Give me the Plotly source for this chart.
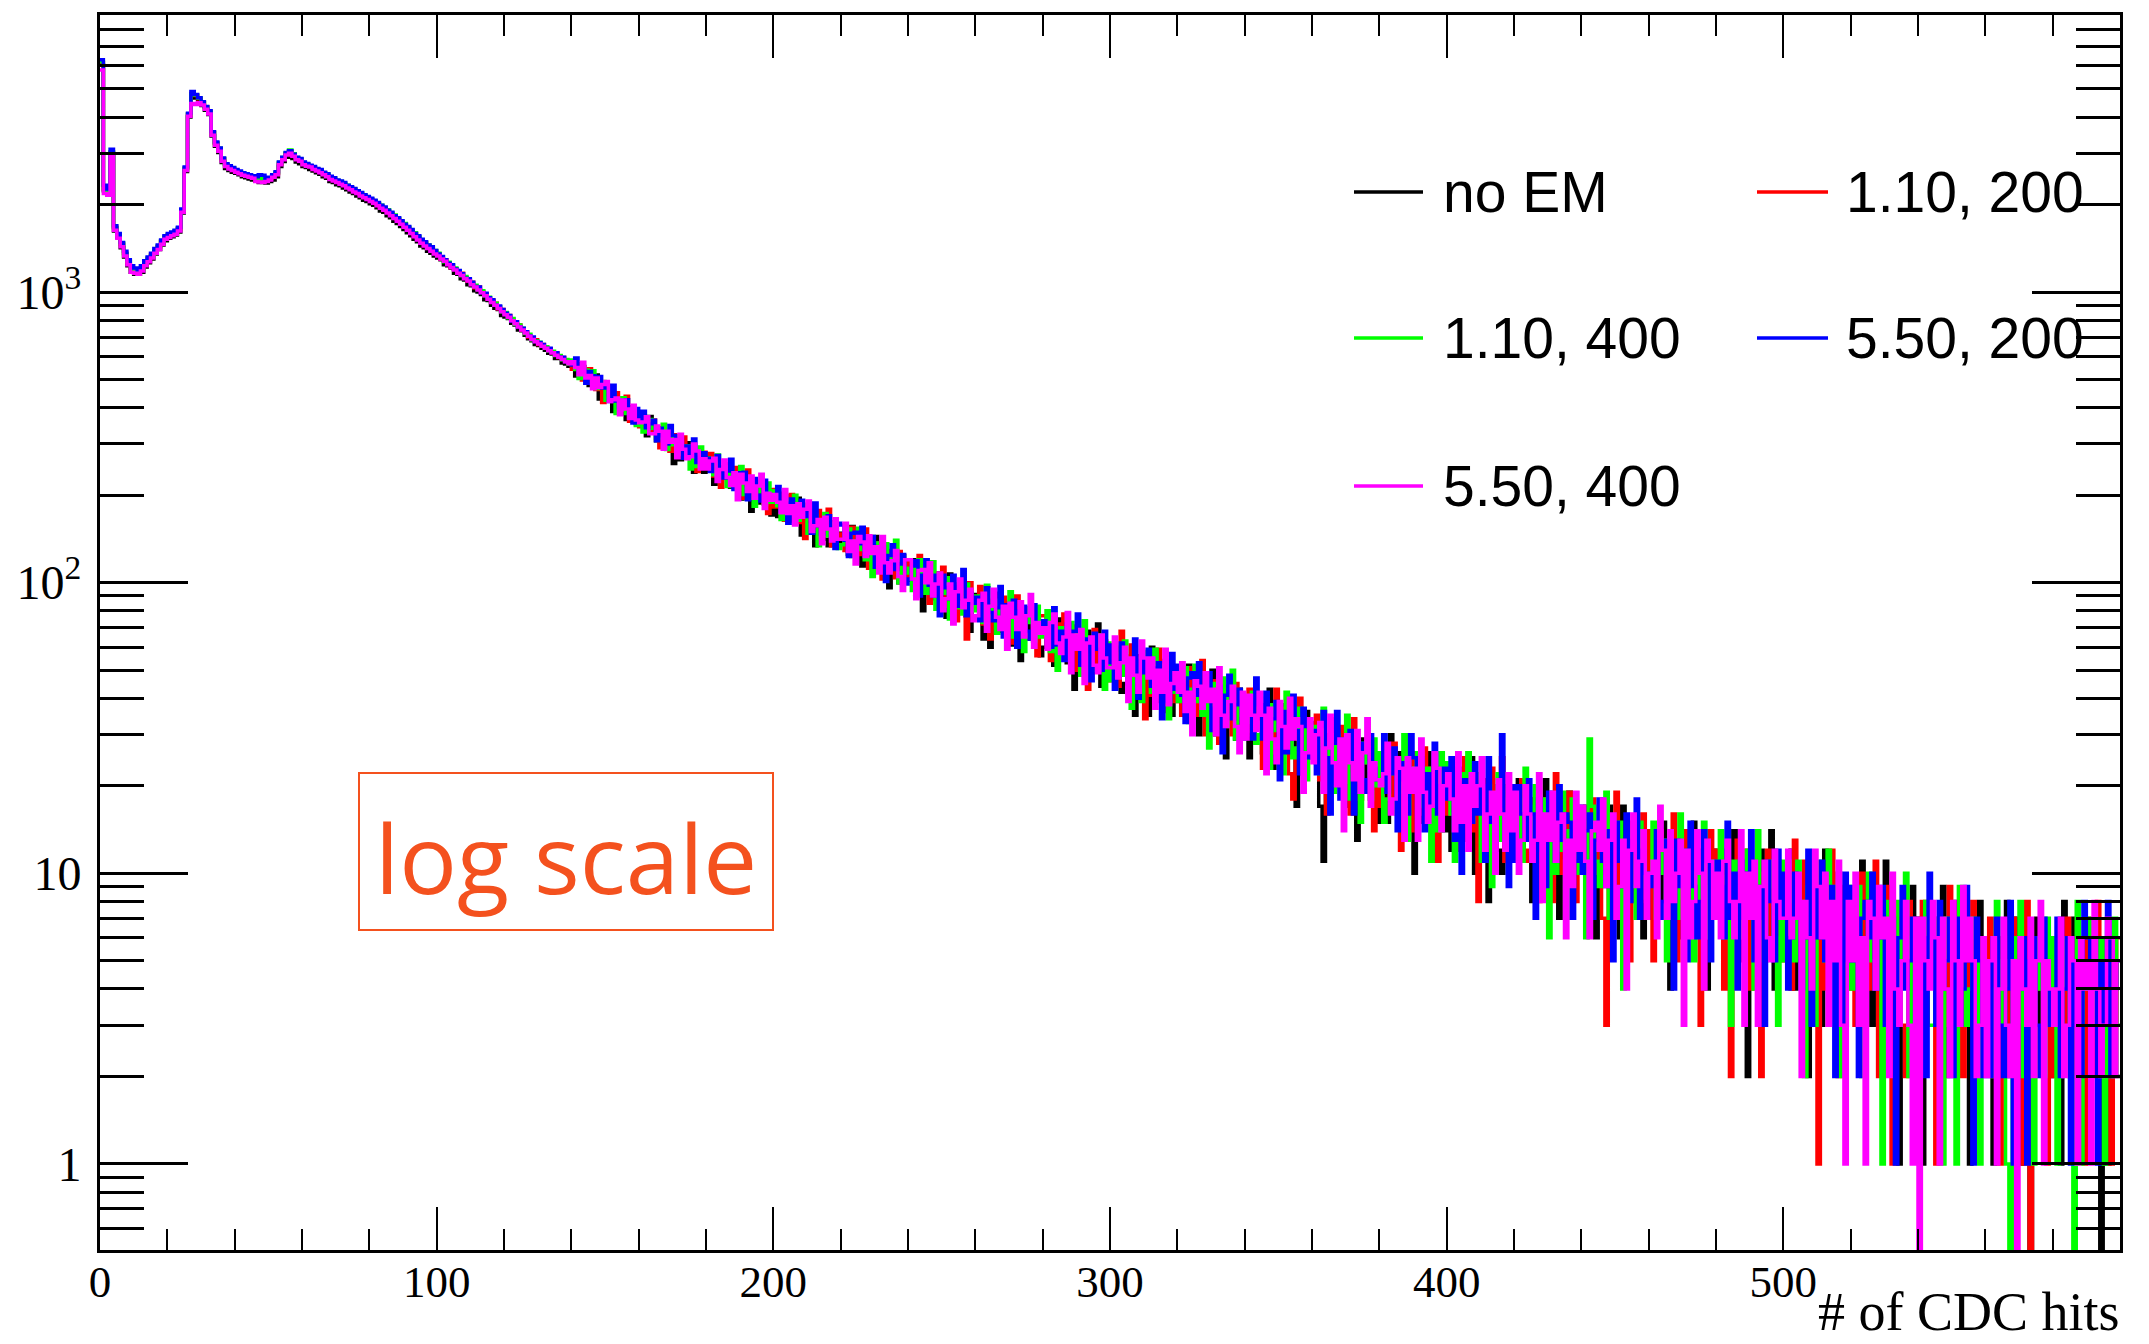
import plotly.graph_objects as go

# ---------------------------------------------------------------------------
# Histogram contents: number of CDC hits per event, 600 bins of width 1
# ---------------------------------------------------------------------------
N_BINS = 600
bin_edges = list(range(0, N_BINS + 1))

no_em = [
    6050, 2230, 2180, 2960, 1620, 1540, 1420, 1320, 1230, 1170, 1150, 1150, 1170, 1220, 1260, 1300, 1350, 1400, 1450, 1500,
    1530, 1550, 1570, 1610, 1870, 2600, 4000, 4700, 4650, 4520, 4380, 4220, 4080, 3440, 3170, 3020, 2790, 2660, 2620, 2580,
    2560, 2530, 2490, 2470, 2450, 2430, 2410, 2380, 2380, 2370, 2400, 2430, 2490, 2700, 2810, 2910, 2980, 2880, 2800, 2760,
    2700, 2680, 2640, 2610, 2570, 2540, 2490, 2460, 2400, 2380, 2340, 2320, 2280, 2250, 2210, 2180, 2140, 2110, 2070, 2050,
    2010, 1990, 1950, 1900, 1880, 1830, 1800, 1750, 1720, 1680, 1640, 1600, 1560, 1520, 1490, 1440, 1420, 1380, 1360, 1330,
    1310, 1290, 1240, 1230, 1210, 1160, 1150, 1110, 1100, 1060, 1050, 1010, 1000, 980, 940, 935, 900, 880, 870, 830,
    820, 810, 780, 770, 740, 735, 710, 690, 680, 660, 655, 640, 630, 615, 612, 590, 590, 570, 565, 555,
    557, 514, 549, 554, 500, 477, 488, 518, 428, 466, 440, 456, 388, 422, 422, 381, 364, 403, 370, 353,
    353, 356, 320, 373, 339, 308, 341, 301, 307, 316, 257, 300, 265, 273, 303, 273, 240, 282, 267, 240,
    269, 242, 218, 249, 250, 230, 256, 213, 225, 239, 194, 204, 220, 176, 208, 223, 188, 194, 206, 171,
    192, 169, 193, 199, 172, 163, 173, 195, 146, 173, 159, 174, 134, 160, 164, 141, 134, 162, 144, 136,
    148, 138, 125, 156, 126, 135, 114, 138, 124, 133, 144, 109, 116, 122, 96, 125, 113, 100, 124, 102,
    103, 120, 91, 101, 80, 106, 101, 88, 108, 90, 97, 76, 107, 84, 78, 88, 96, 77, 68, 90,
    91, 76, 64, 83, 60, 76, 92, 68, 76, 85, 61, 68, 77, 54, 73, 82, 64, 68, 76, 56,
    60, 70, 74, 52, 65, 75, 60, 53, 65, 43, 67, 59, 52, 68, 49, 60, 72, 44, 56, 51,
    48, 52, 60, 42, 45, 55, 52, 35, 56, 46, 51, 35, 60, 46, 39, 41, 54, 48, 35, 44,
    46, 41, 35, 52, 36, 42, 30, 45, 37, 43, 50, 30, 35, 39, 25, 43, 36, 29, 43, 31,
    40, 25, 30, 40, 34, 26, 30, 43, 23, 34, 30, 38, 26, 32, 33, 17, 28, 22, 36, 25,
    33, 24, 17, 11, 30, 24, 34, 20, 25, 31, 17, 20, 27, 13, 24, 29, 19, 22, 26, 15,
    20, 23, 15, 30, 23, 16, 26, 17, 19, 23, 10, 22, 15, 17, 26, 19, 11, 23, 20, 14,
    19, 12, 20, 23, 15, 13, 17, 25, 10, 19, 15, 21, 8, 18, 20, 12, 10, 20, 15, 13,
    13, 21, 12, 14, 18, 8, 16, 13, 9, 21, 16, 12, 17, 7, 14, 10, 19, 8, 12, 15,
    12, 17, 8, 12, 6, 15, 14, 10, 17, 11, 14, 6, 17, 10, 8, 12, 15, 8, 6, 14,
    7, 13, 10, 8, 15, 11, 4, 12, 8, 6, 14, 11, 7, 15, 9, 12, 11, 4, 8, 12,
    7, 10, 12, 5, 10, 14, 7, 5, 10, 2, 11, 8, 6, 12, 5, 10, 14, 4, 9, 7,
    7, 8, 12, 4, 5, 9, 8, 2, 10, 6, 9, 3, 12, 7, 5, 6, 10, 8, 3, 7,
    8, 6, 4, 11, 5, 7, 3, 8, 6, 8, 11, 3, 4, 6, 1, 8, 5, 3, 9, 4,
    7, 1, 3, 8, 5, 3, 4, 9, 2, 6, 5, 8, 3, 6, 7, 1, 4, 2, 8, 3,
    6, 3, 1, 5, 6, 4, 8, 2, 4, 7, 1, 3, 5, 0, 5, 7, 3, 4, 6, 2,
    4, 5, 1, 8, 5, 2, 7, 3, 4, 6, 2, 5, 2, 3, 0, 4, 1, 6, 5, 2,
]

em_110_200 = [
    6150, 2260, 2210, 3020, 1670, 1570, 1460, 1360, 1270, 1210, 1190, 1180, 1210, 1260, 1300, 1340, 1390, 1430, 1490, 1540,
    1570, 1590, 1610, 1650, 1920, 2660, 4080, 4820, 4740, 4620, 4480, 4330, 4180, 3530, 3250, 3100, 2870, 2740, 2690, 2650,
    2610, 2580, 2550, 2530, 2510, 2490, 2470, 2450, 2440, 2430, 2460, 2510, 2560, 2770, 2880, 2990, 3040, 2960, 2880, 2850,
    2770, 2740, 2710, 2670, 2640, 2600, 2560, 2520, 2470, 2440, 2410, 2380, 2350, 2310, 2280, 2240, 2210, 2170, 2140, 2110,
    2080, 2050, 2010, 1970, 1940, 1900, 1860, 1820, 1780, 1740, 1700, 1660, 1620, 1580, 1540, 1500, 1470, 1440, 1410, 1380,
    1350, 1300, 1290, 1260, 1215, 1200, 1160, 1160, 1120, 1090, 1080, 1035, 1040, 1000, 985, 945, 935, 915, 875, 870,
    845, 830, 800, 790, 770, 740, 730, 700, 695, 685, 660, 660, 640, 638, 615, 615, 595, 595, 575, 572,
    542, 561, 567, 498, 523, 544, 489, 462, 488, 417, 472, 444, 420, 450, 394, 415, 438, 359, 386, 367,
    344, 374, 350, 334, 363, 336, 291, 331, 304, 283, 323, 299, 276, 317, 280, 293, 284, 241, 259, 281,
    253, 278, 233, 246, 213, 250, 243, 220, 249, 222, 230, 195, 244, 206, 194, 209, 221, 188, 173, 209,
    182, 196, 203, 164, 184, 201, 172, 161, 180, 142, 179, 165, 153, 177, 145, 162, 179, 134, 153, 144,
    147, 129, 149, 155, 133, 125, 134, 153, 112, 135, 124, 137, 103, 125, 129, 109, 104, 128, 112, 105,
    117, 107, 95, 124, 96, 105, 85, 108, 95, 103, 113, 83, 89, 96, 74, 99, 89, 64, 100, 81,
    81, 97, 72, 81, 64, 87, 83, 72, 89, 75, 81, 62, 90, 70, 64, 74, 82, 64, 56, 77,
    77, 65, 54, 71, 72, 63, 78, 57, 64, 71, 50, 56, 64, 43, 60, 69, 52, 56, 63, 46,
    53, 57, 44, 68, 56, 45, 61, 46, 51, 56, 34, 53, 41, 45, 59, 47, 36, 53, 48, 39,
    46, 35, 48, 51, 39, 35, 42, 54, 30, 44, 38, 46, 28, 41, 44, 34, 30, 45, 36, 33,
    34, 43, 30, 35, 40, 23, 36, 31, 26, 43, 36, 30, 37, 22, 18, 26, 40, 23, 28, 32,
    26, 35, 21, 27, 16, 30, 29, 21, 32, 24, 28, 16, 34, 22, 18, 24, 29, 19, 14, 26,
    17, 26, 22, 18, 28, 22, 12, 24, 18, 14, 26, 21, 16, 27, 19, 23, 22, 11, 17, 24,
    16, 20, 23, 12, 19, 25, 17, 14, 21, 8, 21, 17, 14, 23, 13, 19, 25, 11, 18, 15,
    14, 16, 21, 11, 12, 18, 17, 8, 18, 13, 16, 8, 22, 13, 10, 11, 19, 16, 8, 14,
    15, 12, 9, 18, 10, 13, 7, 3, 11, 15, 19, 7, 10, 13, 5, 15, 11, 8, 16, 10,
    14, 5, 8, 14, 11, 7, 9, 16, 5, 12, 9, 14, 7, 11, 11, 3, 9, 6, 14, 8,
    12, 8, 4, 11, 2, 9, 13, 6, 9, 12, 4, 7, 10, 2, 9, 12, 6, 8, 11, 5,
    7, 9, 4, 13, 9, 5, 11, 5, 7, 10, 1, 9, 4, 6, 12, 8, 2, 9, 7, 4,
    7, 3, 8, 10, 5, 4, 6, 11, 2, 7, 6, 9, 1, 6, 7, 3, 2, 8, 5, 4,
    4, 8, 3, 5, 7, 1, 6, 4, 3, 9, 7, 5, 7, 2, 6, 4, 8, 2, 4, 6,
    3, 7, 2, 4, 1, 6, 5, 3, 7, 4, 5, 1, 8, 0, 2, 4, 6, 2, 1, 6,
    2, 6, 4, 3, 7, 5, 1, 5, 3, 1, 7, 4, 2, 8, 4, 6, 5, 1, 3, 6,
]

em_110_400 = [
    6200, 2270, 2220, 3040, 1660, 1580, 1470, 1350, 1280, 1200, 1190, 1170, 1200, 1270, 1310, 1330, 1390, 1440, 1500, 1550,
    1580, 1590, 1620, 1660, 1910, 2670, 4100, 4780, 4760, 4650, 4500, 4330, 4170, 3550, 3260, 3120, 2880, 2750, 2700, 2670,
    2620, 2590, 2560, 2540, 2520, 2500, 2480, 2460, 2450, 2440, 2470, 2520, 2570, 2790, 2900, 3010, 3080, 2990, 2900, 2870,
    2790, 2760, 2720, 2690, 2650, 2620, 2570, 2540, 2480, 2460, 2420, 2400, 2360, 2330, 2290, 2260, 2220, 2190, 2150, 2120,
    2090, 2060, 2020, 1990, 1950, 1920, 1870, 1840, 1790, 1750, 1720, 1670, 1630, 1600, 1550, 1510, 1480, 1450, 1420, 1390,
    1360, 1320, 1270, 1265, 1235, 1210, 1180, 1140, 1130, 1105, 1065, 1055, 1020, 1010, 970, 960, 925, 915, 890, 855,
    850, 815, 810, 775, 770, 750, 720, 715, 685, 680, 672, 650, 648, 628, 625, 605, 605, 585, 586, 565,
    584, 541, 504, 544, 539, 505, 536, 466, 477, 492, 424, 432, 446, 382, 418, 433, 382, 385, 398, 347,
    379, 330, 336, 364, 340, 314, 318, 351, 287, 317, 298, 320, 278, 295, 296, 246, 274, 251, 293, 257,
    269, 254, 235, 275, 233, 244, 214, 246, 225, 237, 251, 201, 210, 220, 183, 223, 205, 186, 220, 189,
    207, 184, 165, 192, 193, 178, 200, 164, 174, 186, 148, 158, 170, 134, 161, 173, 145, 150, 160, 131,
    135, 147, 153, 123, 139, 154, 130, 120, 138, 105, 137, 126, 116, 136, 109, 124, 140, 100, 116, 108,
    112, 94, 113, 120, 98, 92, 100, 118, 81, 101, 92, 104, 75, 95, 99, 82, 78, 99, 86, 80,
    90, 83, 73, 98, 76, 84, 67, 87, 75, 84, 93, 65, 71, 78, 58, 82, 73, 63, 83, 65,
    66, 80, 58, 66, 50, 70, 68, 58, 73, 59, 66, 48, 74, 56, 50, 59, 66, 50, 43, 62,
    46, 61, 53, 48, 63, 53, 37, 55, 46, 39, 58, 49, 42, 59, 46, 52, 50, 34, 42, 51,
    39, 46, 51, 33, 43, 52, 39, 35, 44, 27, 45, 40, 35, 47, 32, 42, 50, 29, 39, 35,
    33, 35, 42, 28, 30, 38, 35, 23, 38, 31, 35, 22, 42, 31, 25, 27, 37, 33, 21, 30,
    32, 27, 22, 37, 23, 28, 19, 30, 24, 29, 35, 18, 22, 27, 15, 28, 24, 18, 29, 20,
    26, 15, 18, 26, 22, 16, 19, 30, 13, 23, 19, 26, 17, 21, 23, 11, 19, 14, 26, 18,
    24, 16, 11, 21, 22, 18, 26, 15, 19, 22, 11, 15, 20, 9, 18, 22, 13, 16, 20, 11,
    15, 18, 11, 23, 17, 12, 20, 13, 14, 18, 6, 17, 10, 12, 19, 14, 7, 18, 15, 10,
    14, 6, 29, 17, 11, 9, 12, 19, 7, 14, 11, 15, 4, 12, 14, 9, 7, 15, 11, 9,
    10, 15, 7, 10, 13, 5, 12, 9, 7, 16, 12, 9, 12, 5, 10, 7, 15, 6, 9, 11,
    8, 14, 6, 9, 3, 11, 9, 6, 12, 7, 10, 4, 14, 7, 5, 9, 11, 6, 3, 11,
    5, 11, 8, 5, 11, 8, 2, 9, 6, 3, 11, 8, 5, 12, 7, 9, 8, 2, 5, 9,
    4, 7, 9, 2, 6, 10, 5, 4, 8, 1, 8, 6, 4, 8, 3, 6, 10, 2, 6, 5,
    4, 5, 8, 3, 3, 7, 6, 1, 7, 5, 6, 1, 9, 5, 3, 4, 7, 6, 1, 5,
    5, 4, 2, 8, 3, 5, 1, 0, 4, 6, 8, 2, 3, 5, 1, 6, 4, 2, 7, 3,
    6, 1, 2, 6, 4, 2, 0, 8, 1, 5, 4, 7, 3, 5, 6, 1, 4, 2, 7, 3,
]

em_550_200 = [
    6300, 2330, 2260, 3100, 1690, 1590, 1480, 1380, 1290, 1230, 1210, 1190, 1230, 1280, 1320, 1360, 1410, 1450, 1510, 1560,
    1590, 1610, 1630, 1670, 1930, 2690, 4120, 4900, 4780, 4660, 4510, 4350, 4200, 3560, 3280, 3130, 2890, 2760, 2720, 2680,
    2640, 2610, 2570, 2550, 2530, 2510, 2490, 2530, 2520, 2450, 2480, 2530, 2590, 2800, 2910, 3020, 3060, 2980, 2910, 2880,
    2800, 2770, 2730, 2700, 2660, 2640, 2580, 2550, 2500, 2470, 2430, 2410, 2380, 2330, 2300, 2270, 2230, 2200, 2160, 2130,
    2100, 2070, 2030, 1990, 1960, 1910, 1880, 1830, 1800, 1760, 1710, 1680, 1640, 1590, 1560, 1520, 1490, 1450, 1430, 1390,
    1350, 1325, 1290, 1255, 1240, 1200, 1185, 1155, 1115, 1110, 1080, 1045, 1040, 995, 990, 955, 940, 900, 895, 870,
    845, 830, 795, 790, 760, 750, 730, 705, 700, 675, 670, 660, 640, 640, 618, 618, 598, 596, 576, 575,
    561, 593, 525, 539, 485, 533, 515, 477, 512, 467, 472, 420, 478, 422, 400, 415, 426, 377, 354, 397,
    363, 389, 341, 352, 362, 308, 340, 320, 300, 347, 321, 299, 313, 268, 295, 274, 312, 259, 272, 280,
    268, 241, 267, 274, 241, 229, 242, 266, 209, 239, 223, 240, 193, 223, 228, 200, 191, 225, 202, 192,
    192, 214, 176, 188, 160, 194, 187, 168, 192, 169, 177, 148, 188, 157, 147, 160, 170, 143, 131, 160,
    158, 140, 123, 148, 149, 136, 155, 124, 134, 144, 113, 122, 133, 101, 124, 135, 111, 116, 125, 99,
    103, 114, 119, 90, 106, 120, 98, 90, 106, 77, 106, 96, 88, 106, 83, 97, 111, 77, 92, 85,
    89, 74, 91, 96, 79, 74, 82, 97, 65, 84, 76, 87, 60, 80, 83, 68, 64, 84, 72, 67,
    74, 69, 60, 82, 61, 68, 54, 72, 61, 68, 78, 52, 58, 64, 46, 67, 59, 50, 68, 53,
    61, 43, 48, 62, 54, 45, 49, 64, 40, 54, 49, 59, 44, 51, 53, 34, 47, 39, 57, 43,
    52, 41, 33, 47, 49, 41, 53, 37, 42, 49, 31, 37, 44, 26, 41, 48, 34, 38, 43, 29,
    36, 38, 29, 47, 38, 29, 42, 31, 34, 39, 21, 36, 26, 29, 41, 31, 22, 37, 32, 25,
    31, 22, 32, 36, 25, 16, 28, 36, 18, 29, 25, 31, 16, 27, 28, 21, 19, 30, 23, 21,
    21, 30, 19, 22, 27, 14, 24, 21, 16, 30, 25, 20, 25, 14, 22, 17, 28, 16, 20, 23,
    18, 25, 13, 18, 10, 21, 20, 15, 24, 16, 20, 11, 25, 15, 13, 17, 30, 13, 9, 20,
    11, 20, 16, 13, 21, 16, 7, 18, 12, 9, 19, 15, 11, 20, 13, 16, 15, 7, 11, 17,
    10, 14, 16, 7, 13, 18, 11, 9, 14, 5, 15, 11, 9, 16, 8, 13, 18, 7, 12, 10,
    9, 10, 14, 7, 8, 13, 11, 4, 13, 9, 12, 5, 15, 9, 6, 8, 14, 11, 5, 10,
    11, 9, 6, 15, 7, 10, 4, 11, 7, 10, 14, 5, 7, 9, 3, 11, 8, 5, 12, 7,
    10, 4, 6, 10, 8, 4, 6, 12, 3, 9, 6, 11, 5, 8, 9, 2, 6, 3, 10, 5,
    9, 5, 2, 7, 8, 6, 10, 4, 6, 9, 3, 5, 7, 1, 6, 9, 4, 5, 7, 2,
    5, 6, 2, 10, 6, 3, 8, 4, 5, 7, 2, 7, 3, 4, 9, 5, 1, 7, 5, 2,
    5, 2, 6, 7, 3, 2, 4, 8, 1, 5, 4, 6, 1, 5, 6, 3, 2, 7, 4, 3,
    3, 7, 2, 4, 6, 1, 5, 3, 2, 8, 6, 4, 6, 1, 5, 3, 8, 2, 4, 5,
]

em_550_400 = [
    5800, 2180, 2150, 2950, 1630, 1530, 1430, 1330, 1240, 1170, 1160, 1150, 1180, 1230, 1270, 1310, 1360, 1400, 1460, 1520,
    1540, 1560, 1580, 1620, 1880, 2620, 4020, 4450, 4420, 4480, 4400, 4250, 4100, 3460, 3200, 3050, 2820, 2700, 2650, 2620,
    2580, 2550, 2520, 2500, 2480, 2460, 2400, 2390, 2380, 2400, 2430, 2480, 2530, 2740, 2850, 2960, 3000, 2930, 2850, 2820,
    2740, 2710, 2690, 2640, 2610, 2570, 2530, 2490, 2440, 2410, 2380, 2350, 2320, 2280, 2250, 2210, 2180, 2140, 2110, 2080,
    2050, 2020, 1980, 1940, 1910, 1870, 1830, 1790, 1750, 1710, 1670, 1630, 1590, 1550, 1510, 1470, 1440, 1410, 1380, 1350,
    1330, 1300, 1275, 1240, 1215, 1190, 1160, 1140, 1110, 1090, 1060, 1040, 1015, 995, 970, 945, 920, 900, 878, 855,
    835, 818, 796, 778, 758, 740, 722, 704, 686, 674, 662, 651, 640, 628, 618, 606, 596, 586, 576, 566,
    575, 550, 519, 573, 506, 516, 465, 506, 469, 481, 492, 420, 426, 432, 378, 425, 396, 367, 408, 363,
    355, 357, 372, 325, 325, 346, 332, 288, 332, 304, 311, 269, 324, 288, 267, 271, 300, 284, 246, 267,
    246, 262, 268, 223, 245, 264, 230, 216, 239, 193, 236, 220, 206, 233, 195, 215, 236, 180, 203, 192,
    201, 189, 174, 209, 173, 184, 158, 187, 168, 179, 191, 150, 157, 165, 136, 168, 153, 139, 166, 141,
    141, 160, 128, 139, 116, 144, 138, 123, 145, 126, 133, 108, 144, 117, 108, 119, 129, 105, 94, 120,
    120, 103, 88, 110, 111, 100, 117, 90, 99, 108, 80, 88, 99, 72, 93, 103, 82, 87, 95, 74,
    77, 87, 92, 68, 83, 95, 76, 69, 83, 59, 85, 76, 69, 86, 65, 77, 91, 60, 73, 67,
    70, 59, 73, 78, 62, 57, 65, 79, 49, 66, 59, 69, 45, 62, 65, 52, 49, 66, 55, 51,
    51, 65, 47, 53, 60, 39, 55, 48, 42, 63, 55, 47, 55, 37, 50, 42, 59, 38, 45, 49,
    42, 53, 36, 42, 30, 46, 44, 37, 49, 39, 43, 30, 51, 35, 32, 39, 44, 32, 26, 42,
    29, 41, 35, 31, 42, 35, 22, 37, 29, 24, 39, 32, 27, 40, 29, 34, 32, 19, 26, 34,
    24, 30, 33, 19, 27, 35, 24, 20, 29, 14, 30, 24, 21, 31, 19, 26, 34, 17, 24, 21,
    20, 22, 28, 16, 18, 25, 23, 13, 25, 19, 23, 13, 29, 19, 15, 17, 26, 23, 14, 20,
    22, 18, 14, 26, 15, 20, 12, 22, 17, 20, 25, 12, 16, 19, 10, 21, 16, 12, 22, 14,
    19, 10, 13, 20, 16, 11, 13, 22, 8, 16, 13, 19, 11, 15, 16, 6, 13, 9, 19, 12,
    17, 11, 6, 14, 15, 12, 18, 9, 13, 16, 7, 9, 13, 4, 12, 16, 9, 11, 14, 7,
    10, 11, 6, 17, 12, 7, 14, 8, 10, 13, 3, 12, 6, 8, 14, 10, 4, 13, 11, 7,
    10, 6, 11, 13, 8, 6, 8, 14, 3, 10, 7, 11, 3, 9, 11, 6, 5, 12, 8, 7,
    7, 12, 6, 7, 10, 2, 8, 6, 4, 12, 9, 6, 10, 3, 8, 5, 11, 3, 1, 8,
    5, 10, 3, 6, 1, 8, 7, 4, 9, 6, 7, 2, 10, 4, 3, 5, 8, 3, 1, 7,
    0, 7, 5, 4, 8, 6, 1, 7, 4, 2, 8, 5, 3, 9, 5, 7, 5, 2, 3, 6,
    2, 5, 6, 1, 4, 7, 3, 2, 5, 0, 6, 4, 3, 7, 2, 5, 8, 1, 5, 4,
    3, 4, 7, 2, 3, 6, 5, 1, 6, 4, 5, 1, 8, 4, 2, 3, 7, 6, 2, 5,
]

series_values = [no_em, em_110_200, em_110_400, em_550_200, em_550_400]
series_labels = ["no EM", "1.10, 200", "1.10, 400", "5.50, 200", "5.50, 400"]
series_colors = ["#000000", "#ff0000", "#00ff00", "#0000ff", "#ff00ff"]

for name, vals in zip(series_labels, series_values):
    assert len(vals) == N_BINS, f"{name}: {len(vals)} bins"

# axis ticks
x_major_vals = [0, 100, 200, 300, 400, 500]
x_major_text = ["0", "100", "200", "300", "400", "500"]
x_minor_vals = [v for v in range(20, 600, 20) if v % 100]
y_major_vals = [1, 10, 100, 1000]
y_major_text = ["1", "10", "10<sup>2</sup>", "10<sup>3</sup>"]
y_minor_vals = [0.6, 0.7, 0.8, 0.9] + [m * d for d in (1, 10, 100, 1000) for m in range(2, 10)]

# ---------------------------------------------------------------------------
# page geometry (pixels)
# ---------------------------------------------------------------------------
W, H = 2149, 1344
ML, MR, MT, MB = 100, 29, 15, 94
PW, PH = W - ML - MR, H - MT - MB


def paper_x(px):
    return (px - ML) / PW


def paper_y(py):
    return (MT + PH - py) / PH


# empty bins are drawn down to the bottom of the frame
EMPTY_BIN_LEVEL = 0.05

fig = go.Figure()
for name, vals, col in zip(series_labels, series_values, series_colors):
    y_draw = [v if v > 0 else EMPTY_BIN_LEVEL for v in vals]
    fig.add_trace(go.Scatter(
        x=bin_edges,
        y=y_draw + [y_draw[-1]],
        mode="lines",
        line=dict(color=col, width=3.5, shape="hv"),
        name=name,
        showlegend=False,
        hoverinfo="skip",
    ))

# legend drawn as line samples + labels in two columns
legend_rows_y = [192, 338, 486]
legend_cols = [(1354, 1423, 1441), (1757, 1828, 1844)]
shapes = []
annotations = []
for i, (name, col) in enumerate(zip(series_labels, series_colors)):
    r, c = divmod(i, 2)
    x0, x1, xt = legend_cols[c]
    yy = paper_y(legend_rows_y[r])
    shapes.append(dict(type="line", xref="paper", yref="paper",
                       x0=paper_x(x0), x1=paper_x(x1), y0=yy, y1=yy,
                       line=dict(color=col, width=3.5)))
    annotations.append(dict(xref="paper", yref="paper", x=paper_x(xt), y=yy,
                            xanchor="left", yanchor="middle", showarrow=False,
                            text=name,
                            font=dict(family="Liberation Sans, Arial, sans-serif",
                                      size=57, color="#000000")))

# boxed note
NOTE_COLOR = "#f4511e"
shapes.append(dict(type="rect", xref="paper", yref="paper",
                   x0=paper_x(359), x1=paper_x(773),
                   y0=paper_y(930), y1=paper_y(773),
                   line=dict(color=NOTE_COLOR, width=2), fillcolor="rgba(0,0,0,0)"))
annotations.append(dict(xref="paper", yref="paper", x=paper_x(566), y=paper_y(856),
                        xanchor="center", yanchor="middle", showarrow=False,
                        text="log scale",
                        font=dict(family="Open Sans, Lato, sans-serif", size=96,
                                  color=NOTE_COLOR)))

# x-axis title at the bottom right, kept inside the page
annotations.append(dict(xref="paper", yref="paper", x=paper_x(2121), y=paper_y(1343),
                        xanchor="right", yanchor="bottom", showarrow=False,
                        borderpad=0,
                        text="# of CDC hits",
                        font=dict(family="Liberation Serif, Times New Roman, serif",
                                  size=54, color="#000000")))

x_tick_font = dict(family="Liberation Serif, Times New Roman, serif", size=45, color="#000000")
y_tick_font = dict(family="Liberation Serif, Times New Roman, serif", size=48, color="#000000")

fig.update_layout(
    width=W, height=H,
    margin=dict(l=ML, r=MR, t=MT, b=MB, pad=0),
    paper_bgcolor="#ffffff", plot_bgcolor="#ffffff",
    shapes=shapes, annotations=annotations,
    hovermode=False,
    xaxis=dict(
        range=[0, 600], showgrid=False, zeroline=False,
        showline=True, linecolor="#000000", linewidth=3, mirror="ticks",
        ticks="inside", ticklen=43, tickwidth=2, tickcolor="#000000",
        tickmode="array", tickvals=x_major_vals, ticktext=x_major_text,
        tickfont=x_tick_font, ticklabelstandoff=-10,
        minor=dict(tickmode="array", tickvals=x_minor_vals, ticks="inside",
                   ticklen=21, tickwidth=2, tickcolor="#000000", showgrid=False),
    ),
    yaxis=dict(
        type="log", range=[-0.296, 3.953], showgrid=False, zeroline=False,
        showline=True, linecolor="#000000", linewidth=3, mirror="ticks",
        ticks="inside", ticklen=88, tickwidth=3, tickcolor="#000000",
        tickmode="array", tickvals=y_major_vals, ticktext=y_major_text,
        tickfont=y_tick_font, ticklabelstandoff=6,
        minor=dict(tickmode="array", tickvals=y_minor_vals, ticks="inside",
                   ticklen=44, tickwidth=3, tickcolor="#000000", showgrid=False),
    ),
)

fig.write_html("out.html", config={"displayModeBar": False})
